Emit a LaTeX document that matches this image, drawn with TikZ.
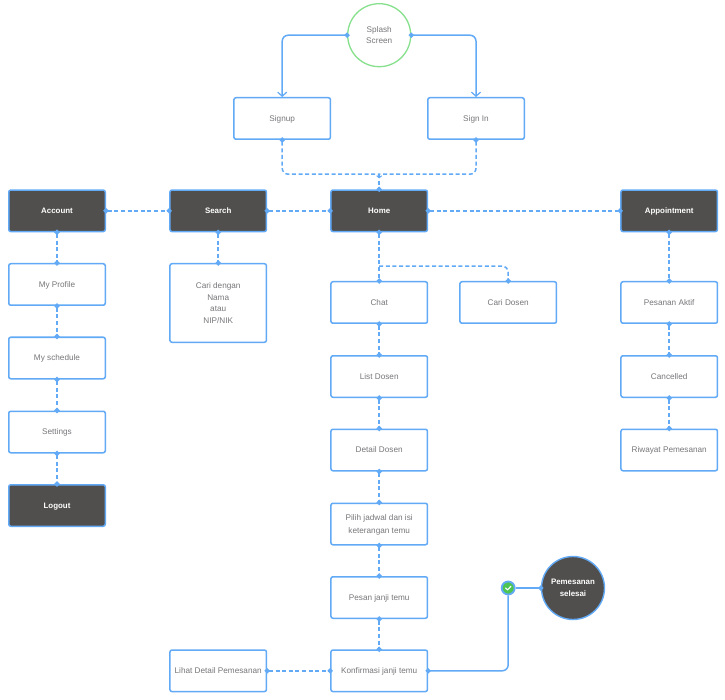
\documentclass[tikz,border=0pt]{standalone}
\usepackage{fontspec}
\setmainfont{Liberation Sans}
\usetikzlibrary{arrows.meta,calc}
\definecolor{linkblue}{HTML}{62A9F6}
\definecolor{darkfill}{HTML}{504F4D}
\definecolor{textgray}{HTML}{77777B}
\definecolor{ringgreen}{HTML}{86E08C}
\definecolor{okgreen}{HTML}{4CC552}
\tikzset{
  x=1pt,y=-1pt,
  every node/.style={font=\fontsize{8.2}{11.5}\selectfont,align=center,text=textgray,inner sep=0pt,text depth=0pt},
  lightbox/.style={draw=linkblue,line width=1.5pt,fill=white,rounded corners=2pt,minimum width=96.5pt,minimum height=41.5pt},
  darkbox/.style={lightbox,fill=darkfill,text=white,font=\fontsize{7.9}{11.5}\selectfont\bfseries},
  link/.style={draw=linkblue,line width=1.5pt,rounded corners=6pt},
  dlink/.style={link,dash pattern=on 4pt off 2.6pt},
  dots/.style={{Circle[length=5pt,width=5pt]}-{Circle[length=5pt,width=5pt]},shorten <=-2.5pt,shorten >=-2.5pt},
  enddot/.style={-{Circle[length=5pt,width=5pt]},shorten >=-2.5pt},
  startdot/.style={{Circle[length=5pt,width=5pt]}-,shorten <=-2.5pt},
  dotbarb/.style={{Circle[length=5pt,width=5pt]}-{Straight Barb[length=4pt,width=9pt,line width=1.2pt]},shorten <=-2.5pt},
}
\begin{document}
\begin{tikzpicture}
\useasboundingbox (0,0) rectangle (725,700);
\fill[white] (0,0) rectangle (725,700);
% nodes
\node[draw=ringgreen,line width=1.3pt,circle,minimum size=63pt,fill=white] (splash) at (379.2,35.2) {Splash\\Screen};
\node[lightbox] (signup) at (282.2,118.5) {Signup};
\node[lightbox] (signin) at (476.0,118.5) {Sign In};
\coordinate (merge) at (379.2,174.2);
\node[darkbox] (account) at (57,210.8) {Account};
\node[darkbox] (search) at (218.2,210.8) {Search};
\node[darkbox] (home) at (379.2,210.8) {Home};
\node[darkbox] (appoint) at (669.2,210.8) {Appointment};
\node[lightbox] (profile) at (57,284.5) {My Profile};
\node[lightbox] (schedule) at (57,358) {My schedule};
\node[lightbox] (settings) at (57,432) {Settings};
\node[darkbox] (logout) at (57,505.5) {Logout};
\node[lightbox,minimum height=78.5pt] (cari) at (218.2,303) {Cari dengan\\Nama\\atau\\NIP/NIK};
\coordinate (fork) at (379.2,266.2);
\node[lightbox] (chat) at (379.2,302.5) {Chat};
\node[lightbox] (caridosen) at (508.2,302.5) {Cari Dosen};
\node[lightbox] (list) at (379.2,376.5) {List Dosen};
\node[lightbox] (detail) at (379.2,450) {Detail Dosen};
\node[lightbox] (pilih) at (379.2,524) {Pilih jadwal dan isi\\[1.5pt]keterangan temu};
\node[lightbox] (pesan) at (379.2,597.5) {Pesan janji temu};
\node[lightbox] (konfirm) at (379.2,670.8) {Konfirmasi janji temu};
\node[lightbox] (lihat) at (218.2,670.8) {Lihat Detail Pemesanan};
\node[lightbox] (aktif) at (669.2,302.5) {Pesanan Aktif};
\node[lightbox] (cancel) at (669.2,376.5) {Cancelled};
\node[lightbox] (riwayat) at (669.2,450) {Riwayat Pemesanan};
\node[draw=linkblue,line width=1.4pt,circle,fill=darkfill,minimum size=63pt,text=white,font=\fontsize{7.9}{11.5}\selectfont\bfseries] (selesai) at (573,588) {Pemesanan\\selesai};
\node[circle,fill=okgreen,draw=linkblue,line width=1.8pt,minimum size=13pt] (ok) at (508.2,588) {};
% connectors
\draw[link,dotbarb] (splash.west) -| (signup.north);
\draw[link,dotbarb] (splash.east) -| (signin.north);
\draw[dlink,startdot] (signup.south) |- (merge);
\draw[dlink,startdot] (signin.south) |- (merge);
\draw[dlink,enddot] (merge) -- (home.north);
\draw[linkblue,line width=1pt] ($(merge)+(-2.5,1.5)$) -- ($(merge)+(0,3.5)$) -- ($(merge)+(2.5,1.5)$);
\draw[dlink,dots] (account.east) -- (search.west);
\draw[dlink,dots] (search.east) -- (home.west);
\draw[dlink,dots] (home.east) -- (appoint.west);
\draw[dlink,dots] (account.south) -- (profile.north);
\draw[dlink,dots] (profile.south) -- (schedule.north);
\draw[dlink,dots] (schedule.south) -- (settings.north);
\draw[dlink,dots] (settings.south) -- (logout.north);
\draw[dlink,dots] (search.south) -- (cari.north);
\draw[dlink,dots] (home.south) -- (chat.north);
\draw[dlink,enddot] (fork) -| (caridosen.north);
\draw[dlink,dots] (chat.south) -- (list.north);
\draw[dlink,dots] (list.south) -- (detail.north);
\draw[dlink,dots] (detail.south) -- (pilih.north);
\draw[dlink,dots] (pilih.south) -- (pesan.north);
\draw[dlink,dots] (pesan.south) -- (konfirm.north);
\draw[dlink,dots] (lihat.east) -- (konfirm.west);
\draw[dlink,dots] (appoint.south) -- (aktif.north);
\draw[dlink,dots] (aktif.south) -- (cancel.north);
\draw[dlink,dots] (cancel.south) -- (riwayat.north);
\draw[link,startdot] (konfirm.east) -| (ok.south);
\draw[link,enddot] (ok.east) -- (selesai.west);
\draw[white,line width=1.1pt,line cap=round,line join=round] ($(ok.center)+(-2.6,0)$) -- ($(ok.center)+(-.7,1.9)$) -- ($(ok.center)+(2.7,-1.7)$);
\end{tikzpicture}
\end{document}
